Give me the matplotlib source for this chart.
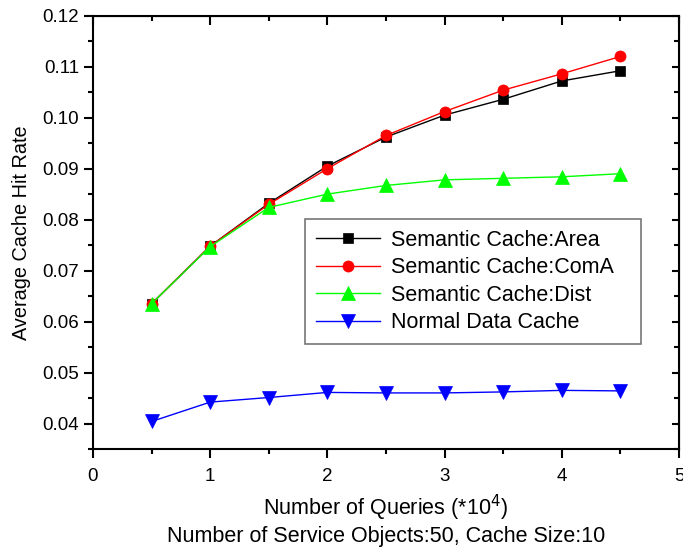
import matplotlib
matplotlib.use("Agg")
import matplotlib.pyplot as plt
from matplotlib.ticker import MultipleLocator, FormatStrFormatter

plt.rcParams['font.family'] = ['Liberation Sans', 'DejaVu Sans']

# queries (*10^4)
queries = [0.5, 1.0, 1.5, 2.0, 2.5, 3.0, 3.5, 4.0, 4.5]
area = [0.0635, 0.0748, 0.0832, 0.0905, 0.0962, 0.1005, 0.1036, 0.1072, 0.1092]
coma = [0.0635, 0.0748, 0.0830, 0.0900, 0.0965, 0.1012, 0.1054, 0.1086, 0.1120]
dist = [0.0635, 0.0747, 0.0824, 0.0850, 0.0867, 0.0878, 0.0881, 0.0884, 0.0890]
normal = [0.0404, 0.0442, 0.0451, 0.0461, 0.0460, 0.0460, 0.0462, 0.0465, 0.0464]
labels = ["Semantic Cache:Area", "Semantic Cache:ComA", "Semantic Cache:Dist", "Normal Data Cache"]

fig = plt.figure(figsize=(6.83, 5.53), dpi=100)
ax = fig.add_axes([93/683, 1-449/553, (679-93)/683, (449-15.7)/553])

ax.plot(queries, area, color='black', marker='s', markersize=7, mew=0.5, lw=1, label=labels[0])
ax.plot(queries, coma, color='red', marker='o', markersize=8, mew=0.5, lw=1, label=labels[1])
ax.plot(queries, dist, color='#00ff00', marker='^', markersize=9.5, mew=0.5, lw=1, label=labels[2])
ax.plot(queries, normal, color='blue', marker='v', markersize=9.5, mew=0.5, lw=1, label=labels[3])

ax.set_xlim(0, 5)
ax.set_ylim(0.035, 0.12)
ax.xaxis.set_major_locator(MultipleLocator(1))
ax.xaxis.set_minor_locator(MultipleLocator(0.5))
ax.yaxis.set_major_locator(MultipleLocator(0.01))
ax.yaxis.set_minor_locator(MultipleLocator(0.005))
ax.yaxis.set_major_formatter(FormatStrFormatter('%.2f'))

for s in ax.spines.values():
    s.set_linewidth(1.5)
ax.tick_params(which='both', direction='out', width=1.5, labelsize=13.5)
ax.tick_params(which='major', length=6.5)
ax.tick_params(which='minor', length=3.5)
ax.tick_params(axis='y', pad=3.5)
ax.tick_params(axis='x', pad=7)

# top and right ticks point inward
top = ax.secondary_xaxis('top')
top.xaxis.set_major_locator(MultipleLocator(1))
top.xaxis.set_minor_locator(MultipleLocator(0.5))
top.tick_params(which='both', direction='in', width=1.5, labeltop=False)
top.tick_params(which='major', length=6.5)
top.tick_params(which='minor', length=3.5)
right = ax.secondary_yaxis('right')
right.yaxis.set_major_locator(MultipleLocator(0.01))
right.yaxis.set_minor_locator(MultipleLocator(0.005))
right.tick_params(which='both', direction='in', width=1.5, labelright=False)
right.tick_params(which='major', length=5)
right.tick_params(which='minor', length=3.5)

ax.set_ylabel("Average Cache Hit Rate", fontsize=14.3, labelpad=8)
ax.set_xlabel("Number of Queries (*10$^4$)\nNumber of Service Objects:50, Cache Size:10",
              fontsize=15.5, labelpad=6, linespacing=1.15)

x0 = (305-93)/586
y0 = (449-340)/433.3
leg = ax.legend(loc='upper left', bbox_to_anchor=(x0, y0, 336/586, (340-219)/433.3),
                mode='expand', fontsize=15.5, frameon=True, fancybox=False, handlelength=3.0,
                borderpad=0.5, labelspacing=0.3, handletextpad=0.5, borderaxespad=0)
leg.get_frame().set_edgecolor('#555555')
leg.get_frame().set_linewidth(1.2)

fig.savefig("out.png", dpi=100)
